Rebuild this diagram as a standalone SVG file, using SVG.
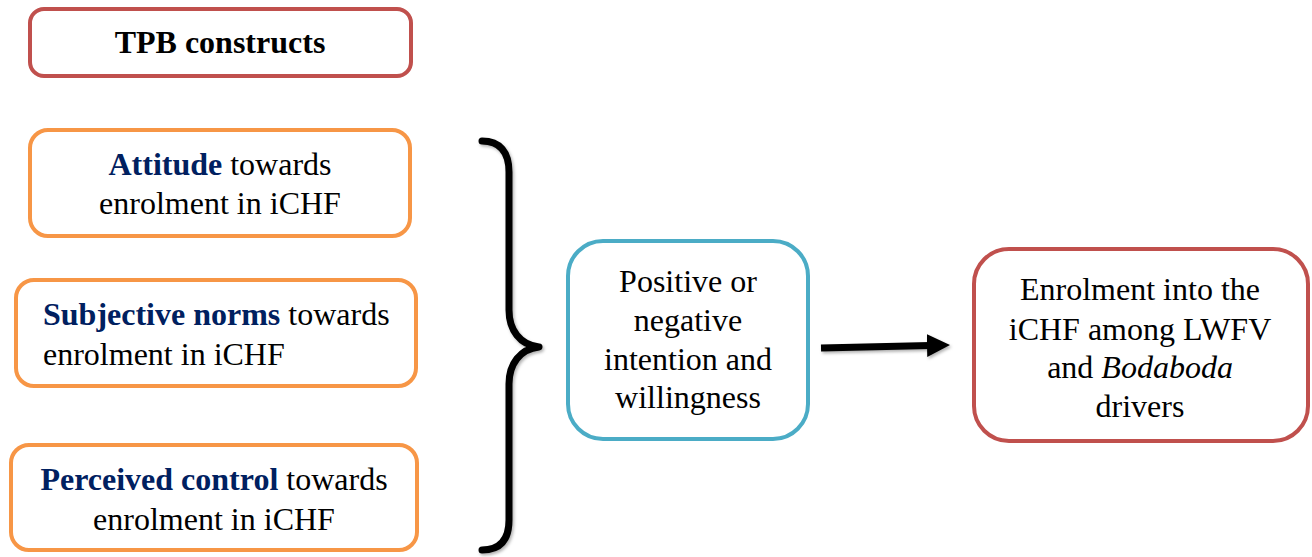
<svg xmlns="http://www.w3.org/2000/svg" width="1312" height="557" viewBox="0 0 1312 557">
<defs>
<style>
.box{fill:#fff;stroke-width:4}
.red{stroke:#C0504D}
.org{stroke:#F79646}
.blu{stroke:#4BACC6}
text{font-family:"Liberation Serif","Times New Roman",serif;font-size:32px;fill:#000}
.c{text-anchor:middle}
.b{font-weight:bold}
.nv{fill:#002060;font-weight:bold}
.conn{fill:none;stroke:#000;stroke-width:7}
</style>
<filter id="sh" x="-20%" y="-20%" width="140%" height="140%">
<feDropShadow dx="1.5" dy="2" stdDeviation="1.5" flood-color="#000" flood-opacity="0.3"/>
</filter>
<marker id="ah" markerUnits="userSpaceOnUse" markerWidth="24" markerHeight="24" refX="3" refY="11.5" orient="auto">
<path d="M0,0 L23,11.5 L0,23 z" fill="#000"/>
</marker>
</defs>
<rect width="1312" height="557" fill="#fff"/>

<g id="tpb">
<rect class="box red" x="30" y="9" width="381" height="67" rx="14"/>
<text class="c b" x="220" y="53">TPB constructs</text>
</g>

<g id="attitude">
<rect class="box org" x="30" y="130" width="380" height="106" rx="18"/>
<text class="c" x="220" y="175"><tspan class="nv">Attitude</tspan> towards</text>
<text class="c" x="220" y="214">enrolment in iCHF</text>
</g>

<g id="subjective">
<rect class="box org" x="16" y="280" width="400" height="106" rx="18"/>
<text x="43" y="325"><tspan class="nv">Subjective norms</tspan> towards</text>
<text x="43" y="365">enrolment in iCHF</text>
</g>

<g id="perceived">
<rect class="box org" x="11" y="445" width="406" height="105" rx="18"/>
<text class="c" x="214" y="490"><tspan class="nv">Perceived control</tspan> towards</text>
<text class="c" x="214" y="530">enrolment in iCHF</text>
</g>

<g id="intention">
<rect class="box blu" x="568" y="241" width="240" height="198" rx="35"/>
<text class="c" x="688" y="292">Positive or</text>
<text class="c" x="688" y="331">negative</text>
<text class="c" x="688" y="370">intention and</text>
<text class="c" x="688" y="408">willingness</text>
</g>

<g id="enrolment">
<rect class="box red" x="974" y="249" width="334" height="192" rx="35"/>
<text class="c" x="1140" y="300">Enrolment into the</text>
<text class="c" x="1140" y="340">iCHF among LWFV</text>
<text class="c" x="1140" y="378">and <tspan font-style="italic">Bodaboda</tspan></text>
<text class="c" x="1140" y="417">drivers</text>
</g>

<g id="connectors" filter="url(#sh)">
<path class="conn" stroke-linecap="round" stroke-linejoin="round" d="M482,141 C500,141 509,152 509,172 L509,310 C509,330 520,345 539,347 C520,349 509,364 509,384 L509,520 C509,540 500,550 482,550"/>
<path class="conn" d="M821,348 L930,345.5" marker-end="url(#ah)"/>
</g>
</svg>
